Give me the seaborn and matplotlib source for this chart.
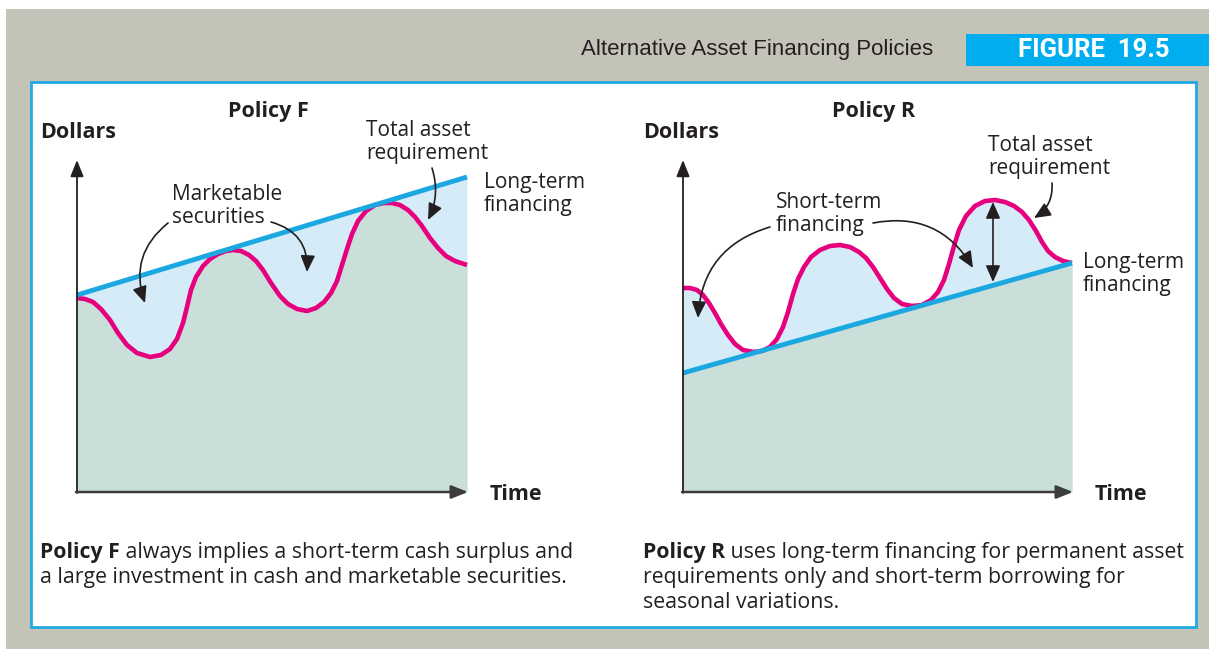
import numpy as np
import matplotlib
matplotlib.use("Agg")
import matplotlib.pyplot as plt
from matplotlib.patches import Rectangle
import seaborn as sns

# ---------------------------------------------------------------------------
# Policy F: total asset requirement stays at or below long-term financing
# (time and dollars in arbitrary chart units)
time_f = [0, 8, 16, 24, 33, 41, 50, 60, 73, 84, 93, 100, 106, 110, 114, 119,
          126, 133, 141, 149, 156, 164, 172, 179, 186, 194, 203, 211, 220, 230,
          239, 247, 254, 260, 265, 270, 275, 281, 289, 298, 307, 315, 323, 331,
          338, 345, 353, 361, 369, 378, 390]
assets_f = [194, 193, 190, 183, 172, 159, 147, 139, 135, 137, 143, 153, 169,
            185, 202, 215, 226, 233, 238, 241, 242, 241, 237, 231, 222, 209,
            196, 188, 183, 181, 184, 190, 199, 211, 227, 243, 258, 271, 281,
            287, 289, 289, 287, 282, 275, 266, 254, 244, 236, 231, 227]
lt_time_f = [0, 390]
lt_fin_f = [197, 315]

# Policy R: long-term financing covers only the permanent requirement
time_r = [0, 7, 14, 20, 26, 32, 38, 45, 52, 60, 70, 79, 87, 94, 100, 105, 110,
          115, 121, 128, 137, 147, 157, 167, 176, 183, 190, 197, 204, 211, 219,
          229, 239, 248, 255, 261, 266, 271, 276, 283, 292, 302, 312, 322, 331,
          339, 346, 353, 359, 365, 372, 380, 389]
assets_r = [204, 204, 202, 197, 189, 179, 168, 157, 148, 142, 140, 141, 145,
            153, 165, 180, 198, 213, 225, 235, 242, 246, 247, 245, 240, 234,
            225, 214, 203, 194, 188, 186, 187, 192, 200, 212, 228, 246, 262,
            276, 286, 291, 292, 290, 286, 280, 272, 261, 250, 241, 235, 231,
            229]
lt_time_r = [0, 389]
lt_fin_r = [119, 229]

panel_titles = ["Policy F", "Policy R"]
header = "Alternative Asset Financing Policies"
figure_tag = "FIGURE 19.5"
caption_f = ["always implies a short-term cash surplus and",
             "a large investment in cash and marketable securities."]
caption_r = ["uses long-term financing for permanent asset",
             "requirements only and short-term borrowing for",
             "seasonal variations."]

# ---------------------------------------------------------------------------
PINK = "#e6007e"
BLUE = "#1ba7e0"
LIGHT = "#d5ecf8"
GREEN = "#cadfda"
INK = "#231f20"
GRAY_BG = "#c3c4b7"

W, H = 1209, 649
sns.set_theme(style="white")
plt.rcParams["font.family"] = ["Open Sans", "DejaVu Sans"]

fig = plt.figure(figsize=(W / 100, H / 100), dpi=100)
fig.patch.set_facecolor(GRAY_BG)


def fx(px):
    return px / W


def fy(py):
    return 1 - py / H


def frect(x0, y0, x1, y1, **kw):
    fig.add_artist(Rectangle((fx(x0), fy(y1)), (x1 - x0) / W, (y1 - y0) / H,
                             transform=fig.transFigure, zorder=-2, **kw))


# page margins, framed panel and header
frect(0, 0, W, 9, facecolor="white", lw=0)
frect(0, 0, 6, H, facecolor="white", lw=0)
frect(31, 82, 1196, 627, facecolor="white", edgecolor="#22a9e1", lw=2)
frect(966, 34, W, 66, facecolor="#00aeef", lw=0)
fig.text(fx(933), fy(50), header, ha="right", va="center",
         family="Liberation Sans", size=16, color=INK)
fig.text(fx(1094), fy(50), figure_tag.replace(" ", "  "), ha="center",
         va="center", family=["Roboto", "DejaVu Sans"], weight="bold",
         size=18.5, color="white")

AX_KW = dict(color=INK, lw=1.2, shrinkA=0, shrinkB=0)


def curved_arrow(ax, start, end, rad):
    ax.annotate("", xy=end, xytext=start,
                arrowprops=dict(arrowstyle="-|>,head_length=0.5,head_width=0.22",
                                connectionstyle=f"arc3,rad={rad}",
                                mutation_scale=20, **AX_KW))


def draw_axes_frame(ax, x_end, y_end):
    ax.annotate("", xy=(0, y_end), xytext=(0, -1),
                arrowprops=dict(arrowstyle="-|>,head_length=0.5,head_width=0.2",
                                mutation_scale=20, color=INK, lw=1.3,
                                shrinkA=0, shrinkB=0))
    ax.annotate("", xy=(x_end, 0), xytext=(-1, 0),
                arrowprops=dict(arrowstyle="-|>,head_length=0.5,head_width=0.2",
                                mutation_scale=20, color="#3c3c3c", lw=1.8,
                                shrinkA=0, shrinkB=0))


def make_axes(x0, x1, y0, y1, ox, oy):
    ax = fig.add_axes([fx(x0), fy(y1), (x1 - x0) / W, (y1 - y0) / H])
    ax.set_xlim(x0 - ox, x1 - ox)
    ax.set_ylim(oy - y1, oy - y0)
    ax.set_axis_off()
    ax.patch.set_alpha(0)
    return ax


LABEL = dict(size=15, color=INK, linespacing=1.15)
BOLD = dict(size=15.5, color=INK, weight="bold")
LINE = dict(sort=False, estimator=None, solid_capstyle="butt",
            solid_joinstyle="round")

# ---------------------------- Policy F -------------------------------------
axF = make_axes(30, 620, 90, 510, 77, 492)
axF.fill_between(lt_time_f, 0, lt_fin_f, color=LIGHT, lw=0)
axF.fill_between(time_f, 0, assets_f, color=GREEN, lw=0)
sns.lineplot(x=time_f, y=assets_f, ax=axF, color=PINK, lw=3.3, **LINE)
sns.lineplot(x=lt_time_f, y=lt_fin_f, ax=axF, color=BLUE, lw=3.5, **LINE)
draw_axes_frame(axF, 391, 332)

axF.text(191, 380, panel_titles[0], ha="center", va="center", **BOLD)
axF.text(-37, 359, "Dollars", ha="left", va="center", **BOLD)
axF.text(413, -2, "Time", ha="left", va="center", **BOLD)
axF.text(289, 350, "Total asset\nrequirement", ha="left", va="center", **LABEL)
axF.text(407, 298, "Long-term\nfinancing", ha="left", va="center", **LABEL)
axF.text(95, 286, "Marketable\nsecurities", ha="left", va="center", **LABEL)
curved_arrow(axF, (91, 269), (68, 189), 0.35)
curved_arrow(axF, (194, 270), (230, 220), -0.4)
curved_arrow(axF, (355, 324), (351, 272), -0.2)

# ---------------------------- Policy R -------------------------------------
axR = make_axes(630, 1190, 90, 510, 683, 492)
axR.fill_between(time_r, 0, assets_r, color=LIGHT, lw=0)
axR.fill_between(lt_time_r, 0, lt_fin_r, color=GREEN, lw=0)
sns.lineplot(x=time_r, y=assets_r, ax=axR, color=PINK, lw=3.3, **LINE)
sns.lineplot(x=lt_time_r, y=lt_fin_r, ax=axR, color=BLUE, lw=3.5, **LINE)
draw_axes_frame(axR, 390, 332)

axR.text(191, 380, panel_titles[1], ha="center", va="center", **BOLD)
axR.text(-40, 359, "Dollars", ha="left", va="center", **BOLD)
axR.text(412, -2, "Time", ha="left", va="center", **BOLD)
axR.text(305, 335, "Total asset\nrequirement", ha="left", va="center", **LABEL)
axR.text(93, 278, "Short-term\nfinancing", ha="left", va="center", **LABEL)
axR.text(400, 218, "Long-term\nfinancing", ha="left", va="center", **LABEL)
curved_arrow(axR, (87, 265), (15, 174), 0.35)
curved_arrow(axR, (190, 269), (290, 224), -0.35)
curved_arrow(axR, (369, 309), (351, 274), -0.3)
axR.annotate("", xy=(310, 290), xytext=(310, 210),
             arrowprops=dict(arrowstyle="<|-|>,head_length=0.5,head_width=0.22",
                             mutation_scale=20, **AX_KW))

# ---------------------------- captions -------------------------------------
CAP = dict(size=15.3, color=INK)


def caption(ax, x_px, y_px, lead, lines):
    t0 = fig.text(fx(x_px), fy(y_px), lead, ha="left", va="baseline",
                  weight="bold", **CAP)
    ax.annotate(" " + lines[0], xy=(1, 0), xycoords=t0, ha="left",
                va="bottom", annotation_clip=False, **CAP)
    for i, line in enumerate(lines[1:], start=1):
        fig.text(fx(x_px), fy(y_px + 25 * i), line, ha="left", va="baseline",
                 **CAP)


caption(axF, 40, 558, panel_titles[0], caption_f)
caption(axR, 643, 558, panel_titles[1], caption_r)

fig.savefig("out.png", dpi=100, facecolor=fig.get_facecolor())
